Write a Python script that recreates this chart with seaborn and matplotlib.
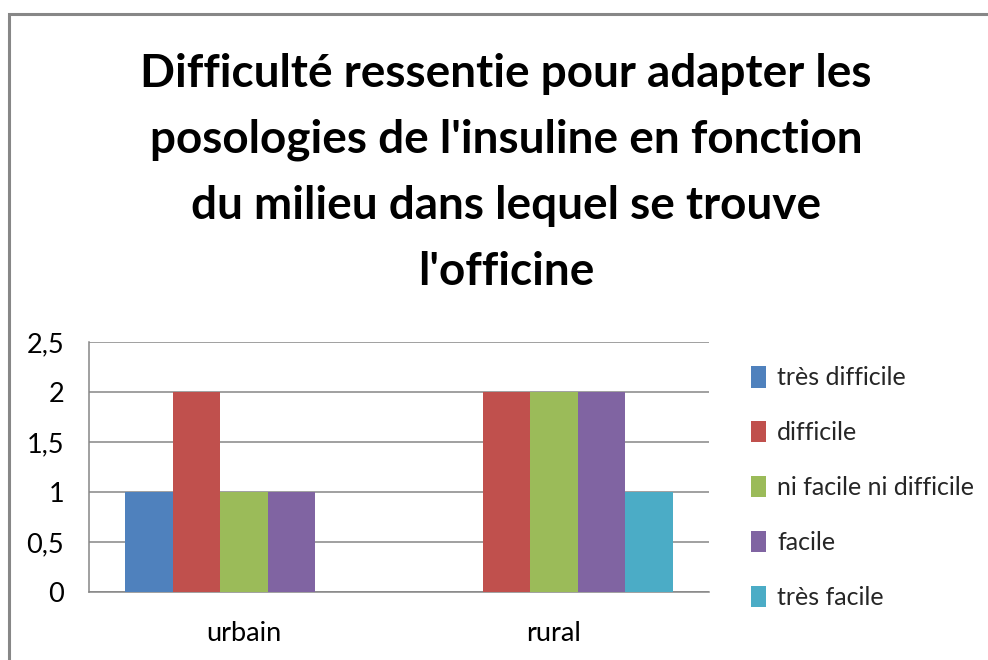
import matplotlib
matplotlib.use("Agg")
import matplotlib.pyplot as plt
import seaborn as sns
import pandas as pd
from matplotlib.patches import Rectangle
from matplotlib.ticker import FuncFormatter

categories = ["urbain", "rural"]
series = ["très difficile", "difficile", "ni facile ni difficile", "facile", "très facile"]
urbain_values = [1, 2, 1, 1, 0]
rural_values = [0, 2, 2, 2, 1]
colors = ["#4F81BD", "#C0504D", "#9BBB59", "#8064A2", "#4BACC6"]
yticks = [0, 0.5, 1, 1.5, 2, 2.5]
title = "Difficulté ressentie pour adapter les\nposologies de l'insuline en fonction\ndu milieu dans lequel se trouve\nl'officine"

rows = []
for cat, vals in zip(categories, [urbain_values, rural_values]):
    for s, v in zip(series, vals):
        rows.append({"milieu": cat, "niveau": s, "valeur": v})
df = pd.DataFrame(rows)

sns.set_style("white")
plt.rcParams["font.family"] = ["Lato", "DejaVu Sans"]

fig = plt.figure(figsize=(9.88, 6.6), dpi=100)
fig.patch.set_facecolor("white")
# outer frame
fig.add_artist(Rectangle((9/988, -0.1), 1.2, (660-14)/660 + 0.1, transform=fig.transFigure,
                         fill=False, edgecolor="#878787", linewidth=2.2))

ax = fig.add_axes([89/988, (660-592)/660, 620/988, 250/660])
sns.barplot(data=df, x="milieu", y="valeur", hue="niveau", order=categories,
            hue_order=series, palette=colors, width=0.765, gap=0, saturation=1,
            edgecolor="none", linewidth=0, ax=ax, zorder=3)
ax.set_ylim(0, 2.5)
ax.set_xlim(-0.5, 1.5)
ax.set_yticks(yticks)
ax.yaxis.set_major_formatter(FuncFormatter(lambda v, p: ("%g" % v).replace(".", ",")))
ax.grid(axis="y", color="#868686", linewidth=1.1, zorder=0)
ax.set_axisbelow(True)
for side in ["top", "right"]:
    ax.spines[side].set_visible(False)
ax.spines["left"].set_color("#868686")
ax.spines["bottom"].set_color("#868686")
ax.spines["left"].set_linewidth(1.1)
ax.spines["bottom"].set_linewidth(1.1)
ax.tick_params(axis="both", length=0, labelsize=19.5, colors="black")
ax.tick_params(axis="y", pad=18)
ax.tick_params(axis="x", pad=21)
ax.set_xlabel("")
ax.set_ylabel("")

leg = ax.legend(loc="upper left", bbox_to_anchor=(751/988, 1 - 366/660), bbox_transform=fig.transFigure,
                frameon=False, fontsize=18, handlelength=0.6, handleheight=0.95,
                handletextpad=0.45, labelspacing=1.26, borderaxespad=0, borderpad=0)

fig.text(506/988, 1 - 53/660, title, ha="center", va="top", fontsize=33,
         fontweight="bold", linespacing=1.70, color="black")

fig.savefig("out.png", dpi=100)
